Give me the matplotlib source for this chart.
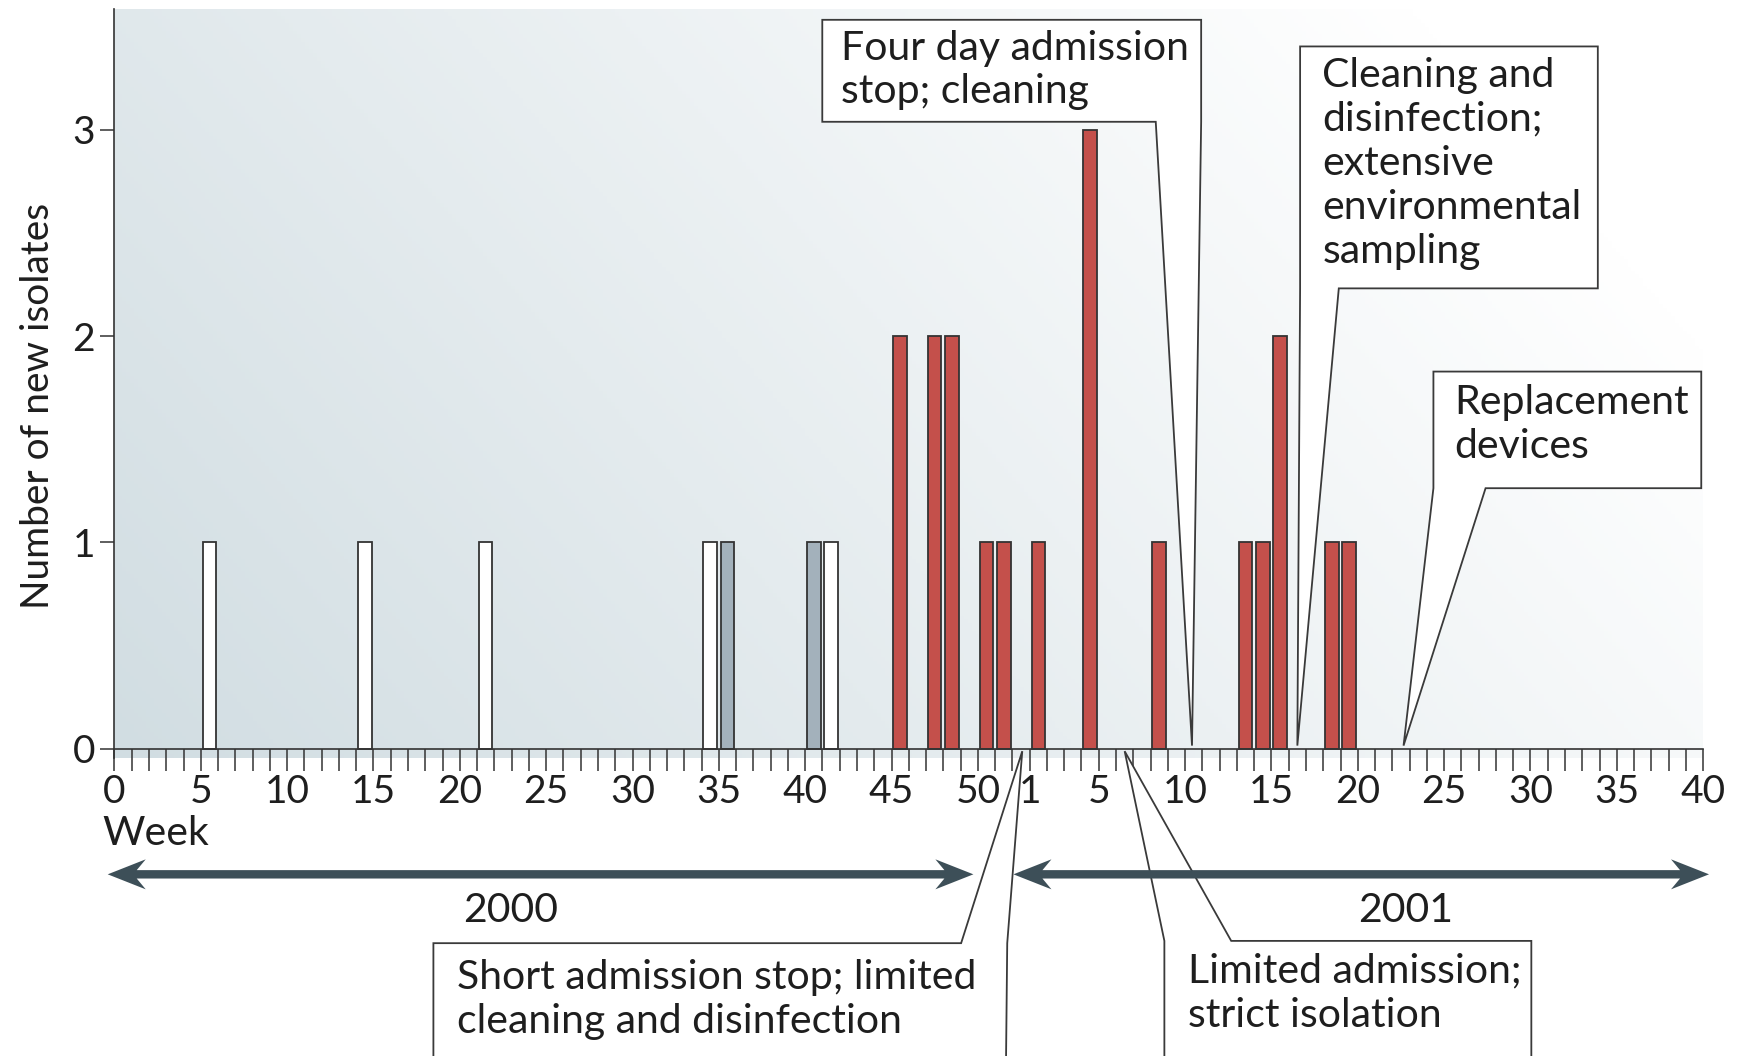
import numpy as np
import matplotlib
matplotlib.use("Agg")
import matplotlib.pyplot as plt
from matplotlib.patches import Polygon
from matplotlib.colors import to_rgb

# ---------------- data ----------------
# weeks of 2000 (index = week) and 2001 (index = 52 + week)
white_weeks_2000 = [5, 14, 21, 34, 41]
white_counts = [1, 1, 1, 1, 1]
grey_weeks_2000 = [35, 40]
grey_counts = [1, 1]
red_weeks_2000 = [45, 47, 48, 50, 51]
red_counts_2000 = [2, 2, 2, 1, 1]
red_weeks_2001 = [1, 4, 8, 13, 14, 15, 18, 19]
red_counts_2001 = [1, 3, 1, 1, 1, 2, 1, 1]

tick_labels_2000 = [0, 5, 10, 15, 20, 25, 30, 35, 40, 45, 50]
tick_labels_2001 = [1, 5, 10, 15, 20, 25, 30, 35, 40]
weeks_in_2000 = 52

annotations = [
    "Four day admission\nstop; cleaning",
    "Cleaning and\ndisinfection;\nextensive\nenvironmental\nsampling",
    "Replacement\ndevices",
    "Short admission stop; limited\ncleaning and disinfection",
    "Limited admission;\nstrict isolation",
]
# week (as axis index) pointed to by each callout
annotation_targets = [62.4, 68.5, 74.65, 52.57, 58.5]

# ---------------- style ----------------
FONT = ["Lato", "DejaVu Sans"]
plt.rcParams['font.family'] = FONT
TXT = "#1e1e1e"
RED = "#c4504b"
GREY = "#a3b1bb"
EDGE = "#333333"
ARROW = "#3d4f58"
FS_TICK = 28
FS = 29.5

fig = plt.figure(figsize=(17.42, 10.56), dpi=100)
ax = fig.add_axes([0.0657, 0.282, 0.912, 0.7096])

XMAX = weeks_in_2000 + tick_labels_2001[-1]
YMIN, YMAX = -0.045, 3.585
ax.set_xlim(0, XMAX)
ax.set_ylim(YMIN, YMAX)

# gradient background
nx, ny = 400, 200
u = np.linspace(0, 1, nx)[None, :]
v = np.linspace(0, 1, ny)[:, None]
t = np.clip(0.82 * u + 0.33 * v, 0, 1)
c0 = np.array(to_rgb("#d1dde2"))
c1 = np.array([1.0, 1.0, 1.0])
img = c0[None, None, :] + (c1 - c0)[None, None, :] * t[:, :, None]
ax.imshow(img, extent=[0, XMAX, YMIN, YMAX], origin="lower", aspect="auto", zorder=0)
ax.set_facecolor("white")

BW = 0.78
def draw_bars(idx, counts, fc):
    x = np.array(idx, dtype=float) + 0.5
    ax.bar(x, counts, width=BW, color=fc, edgecolor=EDGE, linewidth=1.3, zorder=3)

draw_bars(white_weeks_2000, white_counts, "white")
draw_bars(grey_weeks_2000, grey_counts, GREY)
draw_bars(red_weeks_2000, red_counts_2000, RED)
draw_bars([weeks_in_2000 + w for w in red_weeks_2001], red_counts_2001, RED)

# axes styling
for s in ["top", "right"]:
    ax.spines[s].set_visible(False)
ax.spines["bottom"].set_position(("data", 0))
for s in ["left", "bottom"]:
    ax.spines[s].set_color(EDGE)
    ax.spines[s].set_linewidth(1.2)
    ax.spines[s].set_zorder(5)

ticks = list(range(0, XMAX + 1))
labels = [""] * len(ticks)
for w in tick_labels_2000:
    labels[w] = str(w)
for w in tick_labels_2001:
    labels[weeks_in_2000 + w] = str(w)
ax.set_xticks(ticks)
ax.set_xticklabels(labels)
ax.tick_params(axis="x", direction="out", length=16, width=1.1, color=EDGE,
               labelsize=FS_TICK, labelcolor=TXT, pad=2)
ax.set_yticks([0, 1, 2, 3])
ax.tick_params(axis="y", direction="out", length=10, width=1.1, color=EDGE,
               labelsize=FS_TICK, labelcolor=TXT, pad=4)
ax.set_ylabel("Number of new isolates", fontsize=FS_TICK, color=TXT)
ax.yaxis.set_label_coords(-0.037, 0.47)

ax.text(-0.7, -0.41, "Week", fontsize=FS, color=TXT, ha="left", va="center",
        clip_on=False)

# year arrows (drawn in pixel space)
def double_arrow(x0, x1, y):
    p0 = ax.transData.transform((x0, y))
    p1 = ax.transData.transform((x1, y))
    L, R, yc = p0[0], p1[0], p0[1]
    hl, hw, nb, st = 38, 15, 29, 4.2
    pts = [(L, yc), (L + hl, yc + hw), (L + nb, yc + st), (R - nb, yc + st),
           (R - hl, yc + hw), (R, yc), (R - hl, yc - hw), (R - nb, yc - st),
           (L + nb, yc - st), (L + hl, yc - hw)]
    fig.patches.append(Polygon(pts, closed=True, transform=None,
                               facecolor=ARROW, edgecolor="none", zorder=4))

double_arrow(-0.39, 49.74, -0.6075)
double_arrow(52.06, 92.34, -0.6075)
ax.text(22.97, -0.782, "2000", fontsize=FS, color=TXT, ha="center", va="center", clip_on=False)
ax.text(74.77, -0.782, "2001", fontsize=FS, color=TXT, ha="center", va="center", clip_on=False)

# callouts
BOT = -1.75
callout_shapes = [
    [(40.99, 3.532), (62.93, 3.532), (62.93, 3.038), "T", (60.3, 3.038), (40.99, 3.038)],
    [(68.66, 3.403), (85.9, 3.403), (85.9, 2.231), (70.9, 2.231), "T", (68.66, 2.231)],
    [(76.38, 1.828), (91.89, 1.828), (91.89, 1.263), (79.4, 1.263), "T", (76.38, 1.263)],
    [(18.47, -0.941), (49.03, -0.941), "T", (51.7, -0.941), (51.6, BOT), (18.47, BOT)],
    [(60.8, BOT), (60.8, -0.930), "T", (64.67, -0.930), (82.05, -0.930), (82.05, BOT)],
]
tip_y = [0.016, 0.016, 0.016, -0.011, -0.011]
text_pos = [(42.08, 3.485), (69.95, 3.352), (77.6, 1.767), (19.82, -1.018), (62.16, -0.987)]

for txt, tx, shape, ty, (px, py) in zip(annotations, annotation_targets,
                                         callout_shapes, tip_y, text_pos):
    pts = [(tx, ty) if p == "T" else p for p in shape]
    ax.add_patch(Polygon(pts, closed=True, facecolor="white", edgecolor="#3a3a3a",
                         linewidth=1.3, zorder=6, clip_on=False))
    ax.text(px, py, txt, fontsize=FS, color=TXT, ha="left", va="top",
            linespacing=1.23, zorder=7, clip_on=False)

fig.savefig("out.png", dpi=100)
